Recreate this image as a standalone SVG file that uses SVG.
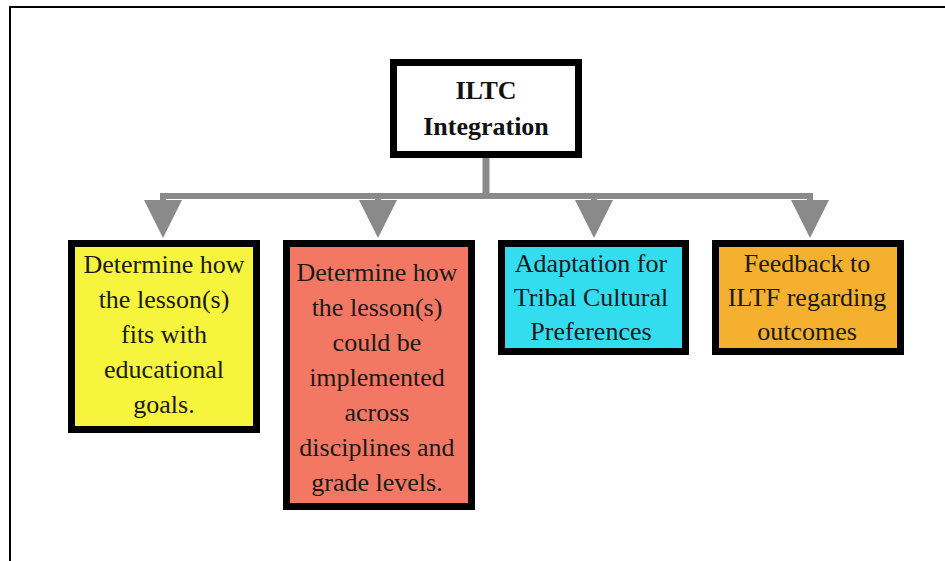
<svg xmlns="http://www.w3.org/2000/svg" width="945" height="561" viewBox="0 0 945 561">
<style>
.box{stroke:#000;stroke-width:7}
.t{font-family:"Liberation Serif","Times New Roman",serif;font-size:26px;fill:#1a1a1a;text-anchor:middle}
.b{font-weight:bold;fill:#111}
.conn{stroke:#8a8a8a;fill:none}
</style>
<defs>
<marker id="arr" markerUnits="userSpaceOnUse" markerWidth="40" markerHeight="40" refX="0" refY="19" orient="auto" viewBox="0 0 40 40">
<path d="M0,0 L38,19 L0,38 z" fill="#8a8a8a"/>
</marker>
</defs>
<rect width="945" height="561" fill="#fff"/>
<path d="M10,561 V7 H945" fill="none" stroke="#000" stroke-width="2"/>
<g id="connectors">
<path class="conn" stroke-width="7" d="M486,158 V196"/>
<path class="conn" stroke-width="6" d="M160,196 H813"/>
<path class="conn" stroke-width="6" d="M163,196 V200" marker-end="url(#arr)"/>
<path class="conn" stroke-width="6" d="M378,196 V200" marker-end="url(#arr)"/>
<path class="conn" stroke-width="6" d="M594,196 V200" marker-end="url(#arr)"/>
<path class="conn" stroke-width="6" d="M810,196 V200" marker-end="url(#arr)"/>
</g>
<g id="iltc">
<rect class="box" x="393.5" y="62.5" width="185" height="92" fill="#fff"/>
<text class="t b" x="486" y="99">ILTC</text>
<text class="t b" x="486" y="135">Integration</text>
</g>
<g id="goals">
<rect class="box" x="71.5" y="243.5" width="185" height="186" fill="#f6f43c"/>
<text class="t" x="164" y="273">Determine how</text>
<text class="t" x="164" y="308">the lesson(s)</text>
<text class="t" x="164" y="343">fits with</text>
<text class="t" x="164" y="378">educational</text>
<text class="t" x="164" y="413">goals.</text>
</g>
<g id="disciplines">
<rect class="box" x="286.5" y="243.5" width="185" height="263" fill="#f27864"/>
<text class="t" x="377" y="281">Determine how</text>
<text class="t" x="377" y="316">the lesson(s)</text>
<text class="t" x="377" y="351">could be</text>
<text class="t" x="377" y="386">implemented</text>
<text class="t" x="377" y="421">across</text>
<text class="t" x="377" y="456">disciplines and</text>
<text class="t" x="377" y="491">grade levels.</text>
</g>
<g id="adaptation">
<rect class="box" x="501.5" y="243.5" width="184" height="108" fill="#33dcee"/>
<text class="t" x="591" y="272">Adaptation for</text>
<text class="t" x="591" y="306">Tribal Cultural</text>
<text class="t" x="591" y="340">Preferences</text>
</g>
<g id="feedback">
<rect class="box" x="715.5" y="243.5" width="185" height="108" fill="#f4b02e"/>
<text class="t" x="807" y="272">Feedback to</text>
<text class="t" x="807" y="306">ILTF regarding</text>
<text class="t" x="807" y="340">outcomes</text>
</g>
</svg>
